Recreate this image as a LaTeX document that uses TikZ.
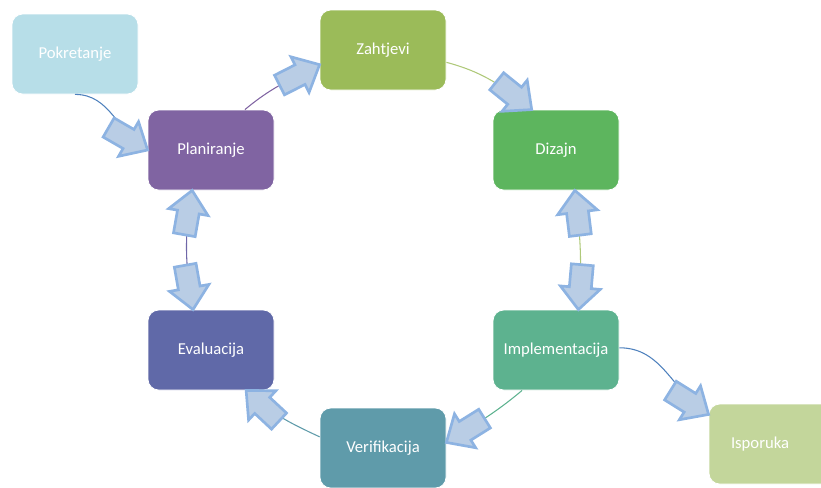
\documentclass[tikz,border=0pt]{standalone}
\usepackage{fontspec}
\setmainfont{Carlito}
\usetikzlibrary{decorations.markings}

\definecolor{pokretanjec}{HTML}{B7DEE8}
\definecolor{zahtjevic}{HTML}{9BBB59}
\definecolor{planiranjec}{HTML}{8064A2}
\definecolor{dizajnc}{HTML}{5DB55E}
\definecolor{implementacijac}{HTML}{5DB28F}
\definecolor{evaluacijac}{HTML}{6069A8}
\definecolor{verifikacijac}{HTML}{5F9BAA}
\definecolor{isporukac}{HTML}{C3D69B}
\definecolor{arrowfill}{HTML}{B9CDE5}
\definecolor{arrowedge}{HTML}{8DB3E2}
\definecolor{linkblue}{HTML}{4F81BD}
\definecolor{linkpurple}{HTML}{6F67A8}

\newcommand{\blockarrow}[1][]{\draw[blockhead,#1](0,0)--(-22,20)--(-22,11)--(-45,11)--(-45,-11)--(-22,-11)--(-22,-20)--cycle;}

\begin{document}
\begin{tikzpicture}[x=0.75pt,y=0.75pt,
    stage/.style={rectangle,rounded corners=8pt,minimum width=94.5pt,minimum height=60pt,
        draw=white,line width=0.6pt,text=white,font=\fontsize{12.5}{14}\selectfont},
    blockhead/.style={draw=arrowedge,fill=arrowfill,line width=2pt,line join=miter},
    link/.style={line width=0.8pt},
    tipend/.style={link,postaction={decorate},
        decoration={markings,mark=at position 0.9999 with {\blockarrow}}},
    tipboth/.style={link,postaction={decorate},
        decoration={markings,mark=at position 0.0001 with {\blockarrow[rotate=180]},
        mark=at position 0.9999 with {\blockarrow}}}]
    \useasboundingbox(0,0)rectangle(821,-487);
    \clip(0,0)rectangle(821,-487);

    \node[stage,fill=pokretanjec](pokretanje)at(75,-54){Pokretanje};
    \node[stage,fill=zahtjevic](zahtjevi)at(383,-50){Zahtjevi};
    \node[stage,fill=planiranjec](planiranje)at(211,-150){Planiranje};
    \node[stage,fill=dizajnc](dizajn)at(556,-150){Dizajn};
    \node[stage,fill=implementacijac](implementacija)at(556,-350){Implementacija};
    \node[stage,fill=evaluacijac](evaluacija)at(211,-350){Evaluacija};
    \node[stage,fill=verifikacijac](verifikacija)at(383,-448){Verifikacija};
    \node[stage,fill=isporukac,align=left,inner xsep=16.5pt,text width=61.5pt](isporuka)at(772,-444){Isporuka};

    \draw[tipend,linkblue](pokretanje.south)to[out=0,in=150](planiranje.west);
    \draw[tipend,planiranjec](planiranje.50)to[out=40,in=207](zahtjevi.193);
    \draw[tipend,zahtjevic!80](zahtjevi.-11)to[out=-15,in=141](dizajn.121);
    \draw[tipboth,zahtjevic!80](dizajn.-65)to[out=-83,in=85](implementacija.61);
    \draw[tipend,implementacijac](implementacija.-130)to[out=-140,in=32](verifikacija.5);
    \draw[tipend,linkblue](implementacija.2)to[out=0,in=148](isporuka.155);
    \draw[tipend,verifikacijac](verifikacija.170)to[out=155,in=-43](evaluacija.-49);
    \draw[tipboth,linkpurple](planiranje.-115)to[out=-100,in=100](evaluacija.114);
\end{tikzpicture}
\end{document}
